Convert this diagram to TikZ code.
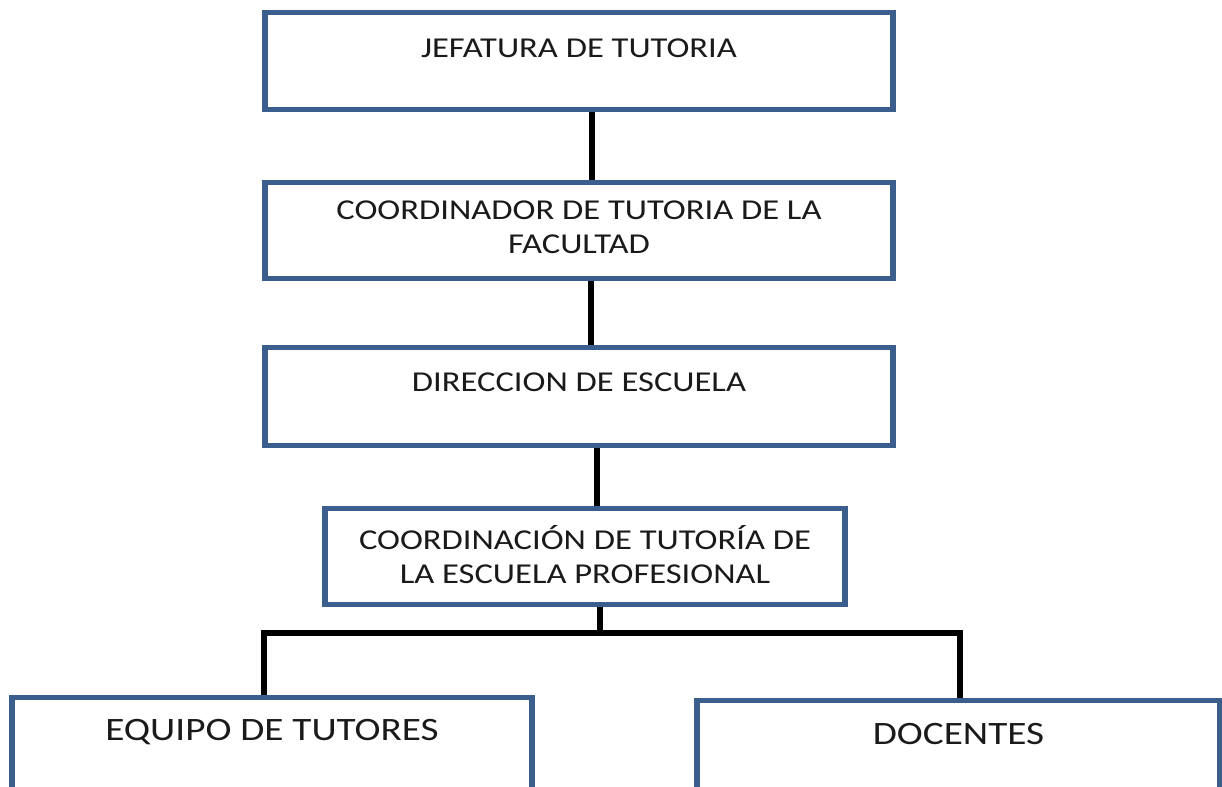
\documentclass[tikz,border=0pt]{standalone}
\usepackage{fontspec}
\setmainfont{Carlito}[FakeStretch=1.2]
\usetikzlibrary{positioning,calc,backgrounds}
\definecolor{cBorde}{HTML}{3B5E8C}
\definecolor{cInk}{HTML}{1A1A1A}
\tikzset{
  obox/.style={draw=cBorde,fill=white,line width=3.8pt,anchor=north,inner xsep=4pt,inner ysep=0pt,
    align=center,text=cInk,font=\fontsize{21.6}{25.5}\selectfont},
  lbox/.style={obox,font=\fontsize{24.5}{29}\selectfont},
  conn/.style={line width=4pt,color=black},
}

\begin{document}
\begin{tikzpicture}[x=0.75pt,y=-0.75pt]
  \useasboundingbox (0,0) rectangle (1222,787);
  \clip (0,0) rectangle (1222,787);
  % boxes: fixed text height/depth keeps the text near the top
  \node[obox,minimum width=471pt,text height=33.75pt,text depth=39pt]    (jefe)  at (579,10)    {JEFATURA DE TUTORIA};
  \node[obox,minimum width=471pt,text height=53.25pt,text depth=18.75pt] (cfac)  at (579,180)   {COORDINADOR DE TUTORIA DE LA\\ FACULTAD};
  \node[obox,minimum width=471pt,text height=33pt,text depth=40.5pt]     (dir)   at (579,345)   {DIRECCION DE ESCUELA};
  \node[obox,minimum width=390pt,text height=56.25pt,text depth=15.75pt] (cesc)  at (585,506)   {COORDINACIÓN DE TUTORÍA DE\\ LA ESCUELA PROFESIONAL};
  \node[lbox,minimum width=390pt,text height=32.25pt,text depth=46.5pt]  (equip) at (272,695)   {EQUIPO DE TUTORES};
  \node[lbox,minimum width=392.25pt,text height=33pt,text depth=43.5pt] (doc) at (958.5,698) {DOCENTES};
  \coordinate (split) at (600,633);
  \coordinate (lft) at (264,633);
  \coordinate (rgt) at (960,633);
  \begin{scope}[on background layer]
    \draw[conn] ($(jefe.south)+(13,0)$) -- ($(cfac.north)+(13,0)$);
    \draw[conn] ($(cfac.south)+(12,0)$) -- ($(dir.north)+(12,0)$);
    \draw[conn] ($(dir.south)+(18,0)$) -- ($(cesc.north)+(12,0)$);
    \draw[conn] (cesc.south -| split) -- (split);
    \draw[conn] (lft |- equip.north) -- (lft) -- (rgt) -- (rgt |- doc.north);
  \end{scope}
\end{tikzpicture}
\end{document}
